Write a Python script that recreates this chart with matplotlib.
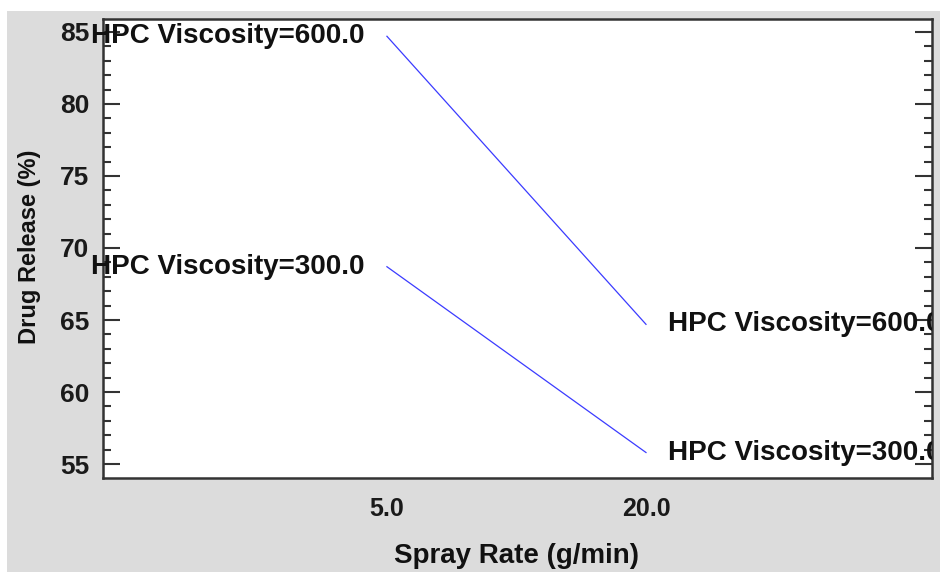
import matplotlib.pyplot as plt
from matplotlib.patches import Rectangle
from matplotlib.ticker import MultipleLocator

# Interaction plot: drug release vs spray rate for two HPC viscosities
spray_rate = [5.0, 20.0]
viscosity_levels = ["600.0", "300.0"]
release_600 = [84.7, 64.7]
release_300 = [68.7, 55.8]
series = [release_600, release_300]

plt.rcParams['font.family'] = ['Liberation Sans', 'DejaVu Sans']
plt.rcParams['font.weight'] = 'bold'

W, H = 940, 572
fig = plt.figure(figsize=(W / 100, H / 100), dpi=100, facecolor='white')
fig.patches.append(Rectangle((7 / W, 0), 1, 1 - 11 / H, transform=fig.transFigure,
                             facecolor='#dcdcdc', edgecolor='none', zorder=-1))

ax = fig.add_axes([103 / W, 1 - 478 / H, (932 - 103) / W, (478 - 19) / H])
ax.set_facecolor('white')

for vals, lvl in zip(series, viscosity_levels):
    ax.plot(spray_rate, vals, color='#3b3bff', lw=0.9)
    label = "HPC Viscosity=" + lvl
    ax.annotate(label, (spray_rate[0], vals[0]), xytext=(-16, 0), textcoords='offset points',
                ha='right', va='center', fontsize=20, fontweight='bold',
                color='#111111', annotation_clip=False)
    t = ax.annotate(label, (spray_rate[1], vals[1]), xytext=(16, 0), textcoords='offset points',
                    ha='left', va='center', fontsize=20, fontweight='bold', color='#111111')
    # right-hand labels get cut off by the axes frame, like the original
    t.set_clip_box(ax.bbox)
    t.set_clip_on(True)

ax.set_xlim(-11.44, 36.56)
ax.set_ylim(54.03, 85.9)
ax.set_xticks(spray_rate)
ax.set_xticklabels([f"{v:.1f}" for v in spray_rate])
ax.yaxis.set_major_locator(MultipleLocator(5))
ax.yaxis.set_minor_locator(MultipleLocator(1))

ax.tick_params(axis='x', length=0, pad=14, labelsize=18, labelcolor='#1a1a1a')
ax.tick_params(axis='y', which='both', direction='in', left=True, right=True,
               labelsize=19, labelcolor='#1a1a1a', color='#333333', width=1.5, pad=10)
ax.tick_params(axis='y', which='major', length=12)
ax.tick_params(axis='y', which='minor', length=6)
for lab in ax.get_xticklabels() + ax.get_yticklabels():
    lab.set_fontweight('bold')

for sp in ax.spines.values():
    sp.set_color('#333333')
    sp.set_linewidth(1.8)

fig.text(30 / W, 1 - 247 / H, "Drug Release (%)", rotation=90, ha='center', va='center',
         fontsize=17, fontweight='bold', color='#111111')
fig.text(517 / W, 1 - 556 / H, "Spray Rate (g/min)", ha='center', va='center',
         fontsize=20, fontweight='bold', color='#111111')

fig.savefig('out.png', dpi=100, facecolor=fig.get_facecolor())
